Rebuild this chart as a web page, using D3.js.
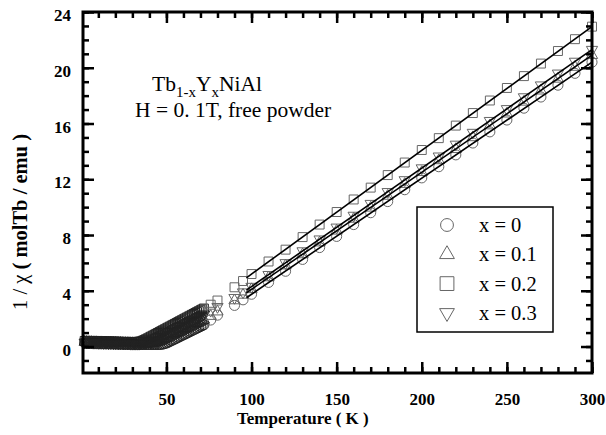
<!DOCTYPE html>
<meta charset="utf-8">
<style>
body {margin: 0; background: #fff;}
text {font-family: "Liberation Serif", "Times New Roman", serif; fill: #000;}
.tick text {font-weight: bold; font-size: 17px;}
.mark {fill: none; stroke: #666; stroke-width: 1;}
.mark.dense {stroke: #222;}
.fit {fill: none; stroke: #000; stroke-width: 1.6;}
</style>
<body>
<script src="https://d3js.org/d3.v7.min.js"></script>
<script>
// temperature (K) shared by all four samples
var temps = [2,3,4,5,6,7,8,9,10,11,12,13,14,15,16,17,18,19,20,21,22,23,24,25,26,27,28,29,30,31,
  32,33,34,35,36,37,38,39,40,41,42,43,44,45,46,47,48,49,50,51,52,53,54,55,56,57,58,59,60,61,
  62,63,64,65,66,67,68,69,70,71,72, 76,80,90,95,
  100,110,120,130,140,150,160,170,180,190,200,210,220,230,240,250,260,270,280,290,300];

// 1/chi for each Y content
var invChiX0 = [0.26,0.26,0.25,0.25,0.25,0.24,0.24,0.24,0.23,0.23,
  0.23,0.22,0.22,0.22,0.21,0.21,0.21,0.20,0.20,0.20,
  0.19,0.19,0.19,0.18,0.18,0.18,0.18,0.17,0.17,0.17,
  0.17,0.16,0.16,0.16,0.16,0.15,0.15,0.15,0.15,0.15,
  0.15,0.15,0.15,0.15,0.15,0.16,0.18,0.21,0.25,0.30,
  0.36,0.42,0.48,0.54,0.60,0.66,0.72,0.78,0.84,0.90,
  0.96,1.02,1.08,1.14,1.20,1.26,1.32,1.38,1.44,1.50,
  1.56, 1.9,2.25, 2.95,3.35,
  3.75,4.6,5.4,6.25,7.1,7.9,8.75,9.6,10.4,11.25,12.1,12.9,13.75,14.6,15.4,16.25,17.1,17.9,18.75,19.6,20.4];
var invChiX01 = [0.32,0.32,0.31,0.31,0.31,0.30,0.30,0.30,0.29,0.29,
  0.29,0.28,0.28,0.28,0.27,0.27,0.27,0.26,0.26,0.26,
  0.25,0.25,0.25,0.24,0.24,0.24,0.24,0.23,0.23,0.23,
  0.23,0.22,0.22,0.22,0.22,0.21,0.21,0.21,0.21,0.22,
  0.23,0.25,0.28,0.32,0.37,0.42,0.47,0.53,0.59,0.65,
  0.71,0.77,0.83,0.89,0.95,1.01,1.07,1.13,1.19,1.25,
  1.31,1.37,1.43,1.49,1.55,1.61,1.67,1.73,1.79,1.85,
  1.91, 2.18,2.5, 3.3,3.7,
  4.1,4.95,5.8,6.6,7.45,8.3,9.15,9.95,10.8,11.65,12.5,13.35,14.15,15.0,15.85,16.7,17.55,18.35,19.2,20.05,20.9];
var invChiX02 = [0.40,0.40,0.39,0.39,0.39,0.38,0.38,0.38,0.37,0.37,
  0.37,0.36,0.36,0.36,0.35,0.35,0.35,0.34,0.34,0.34,
  0.33,0.33,0.33,0.32,0.32,0.32,0.31,0.31,0.31,0.31,
  0.31,0.32,0.34,0.37,0.41,0.46,0.52,0.58,0.645,0.71,
  0.775,0.84,0.905,0.97,1.035,1.10,1.165,1.23,1.295,1.36,
  1.425,1.49,1.555,1.62,1.685,1.75,1.815,1.88,1.945,2.01,
  2.075,2.14,2.205,2.27,2.335,2.40,2.465,2.53,2.595,2.66,
  2.725, 3.0,3.3, 4.25,4.7,
  5.2,6.1,6.95,7.85,8.75,9.65,10.55,11.4,12.3,13.2,14.1,14.95,15.85,16.75,17.65,18.55,19.4,20.3,21.2,22.05,22.95];
var invChiX03 = [0.30,0.30,0.29,0.29,0.29,0.28,0.28,0.28,0.27,0.27,
  0.27,0.26,0.26,0.26,0.25,0.25,0.25,0.24,0.24,0.24,
  0.23,0.23,0.23,0.22,0.22,0.22,0.22,0.21,0.21,0.21,
  0.21,0.21,0.21,0.22,0.24,0.27,0.31,0.36,0.41,0.46,
  0.52,0.58,0.64,0.70,0.76,0.82,0.88,0.94,1.00,1.06,
  1.12,1.18,1.24,1.30,1.36,1.42,1.48,1.54,1.60,1.66,
  1.72,1.78,1.84,1.90,1.96,2.02,2.08,2.14,2.20,2.26,
  2.32, 2.58,2.85, 3.5,3.9,
  4.3,5.15,6.0,6.85,7.7,8.55,9.4,10.25,11.1,11.95,12.8,13.65,14.5,15.35,16.2,17.05,17.9,18.75,19.6,20.45,21.3];

// Curie-Weiss fits, end points
var fitT = [97, 300];
var fitX0 = [3.5, 20.4];
var fitX01 = [3.85, 20.9];
var fitX02 = [4.93, 22.95];
var fitX03 = [4.05, 21.3];

var legendLabels = ["x = 0", "x = 0.1", "x = 0.2", "x = 0.3"];
var xTicks = [50, 100, 150, 200, 250, 300];
var yTicks = [0, 4, 8, 12, 16, 20, 24];

var width = 606, height = 435;
var pL = 83, pR = 592, pT = 12, pB = 373;

var svg = d3.select("body").append("svg")
    .attr("width", width)
    .attr("height", height);

var x = d3.scaleLinear().domain([1, 300]).range([pL, pR]);
var y = d3.scaleLinear().domain([-1.9, 24]).range([pB, pT]);

var shapes = [
  {type: d3.symbolCircle, size: 80, rot: 0},
  {type: d3.symbolTriangle, size: 55, rot: 0},
  {type: d3.symbolSquare, size: 80, rot: 0},
  {type: d3.symbolTriangle, size: 55, rot: 180}
];
var series = [invChiX0, invChiX01, invChiX02, invChiX03];
var fits = [fitX0, fitX01, fitX02, fitX03];

// data points (the 1 K steps below 73 K pile up into a dark band)
series.forEach(function(vals, i) {
  var sh = shapes[i];
  svg.append("g").selectAll("path")
    .data(temps)
    .enter().append("path")
    .attr("class", function(t) { return t <= 72 ? "mark dense" : "mark"; })
    .attr("d", d3.symbol().type(sh.type).size(sh.size))
    .attr("transform", function(t, j) {
      return "translate(" + x(t) + "," + y(vals[j]) + ") rotate(" + sh.rot + ")";
    });
});

// fitted lines
var line = d3.line().x(function(d) { return x(d[0]); }).y(function(d) { return y(d[1]); });
fits.forEach(function(f) {
  svg.append("path")
    .attr("class", "fit")
    .attr("d", line(fitT.map(function(t, j) { return [t, f[j]]; })));
});

// axes: ticks point inward
function styleAxis(g) {
  g.select(".domain").remove();
  g.selectAll(".tick line").attr("stroke", "#000").attr("stroke-width", 2.5);
}
var minorX = d3.range(10, 301, 10);
var minorY = d3.range(-1, 25, 1);

svg.append("g").attr("transform", "translate(0," + pB + ")")
  .call(d3.axisBottom(x).tickValues(minorX).tickSize(-6).tickFormat(""))
  .call(styleAxis);
svg.append("g").attr("transform", "translate(0," + pB + ")")
  .call(d3.axisBottom(x).tickValues(xTicks).tickSize(-11).tickPadding(20))
  .call(styleAxis);
svg.append("g").attr("transform", "translate(0," + pT + ")")
  .call(d3.axisTop(x).tickValues(minorX).tickSize(-6).tickFormat(""))
  .call(styleAxis);
svg.append("g").attr("transform", "translate(0," + pT + ")")
  .call(d3.axisTop(x).tickValues(xTicks).tickSize(-11).tickFormat(""))
  .call(styleAxis);

svg.append("g").attr("transform", "translate(" + pL + ",0)")
  .call(d3.axisLeft(y).tickValues(minorY).tickSize(-6).tickFormat(""))
  .call(styleAxis);
svg.append("g").attr("transform", "translate(" + pL + ",0)")
  .call(d3.axisLeft(y).tickValues(yTicks).tickSize(-11).tickPadding(12))
  .call(styleAxis)
  .selectAll(".tick text").attr("dy", "0.5em");
svg.append("g").attr("transform", "translate(" + pR + ",0)")
  .call(d3.axisRight(y).tickValues(minorY).tickSize(-6).tickFormat(""))
  .call(styleAxis);
svg.append("g").attr("transform", "translate(" + pR + ",0)")
  .call(d3.axisRight(y).tickValues(yTicks).tickSize(-11).tickFormat(""))
  .call(styleAxis);

// frame
svg.append("rect")
  .attr("x", pL).attr("y", pT)
  .attr("width", pR - pL).attr("height", pB - pT)
  .attr("fill", "none").attr("stroke", "#000").attr("stroke-width", 3);

// axis titles
svg.append("text")
  .attr("x", 237).attr("y", 424)
  .style("font-size", "17px").style("font-weight", "bold")
  .text("Temperature ( K )");

var yt = svg.append("text")
  .attr("transform", "translate(27,222) rotate(-90)")
  .attr("text-anchor", "middle")
  .style("font-size", "20.5px");
yt.append("tspan").text("1 / \u03c7 ");
yt.append("tspan").style("font-weight", "bold").text("( molTb / emu )");

// sample annotation
var ann = svg.append("text").attr("x", 152).attr("y", 91).style("font-size", "21.5px");
ann.append("tspan").text("Tb");
ann.append("tspan").attr("dy", 6).style("font-size", "15px").text("1-x");
ann.append("tspan").attr("dy", -6).text("Y");
ann.append("tspan").attr("dy", 6).style("font-size", "15px").text("x");
ann.append("tspan").attr("dy", -6).text("NiAl");

svg.append("text").attr("x", 135).attr("y", 117).style("font-size", "21.5px")
  .text("H = 0. 1T, free powder");

// legend
svg.append("rect")
  .attr("x", 417).attr("y", 207).attr("width", 136).attr("height", 125)
  .attr("fill", "#fff").attr("stroke", "#000").attr("stroke-width", 1.5);

var legendSizes = [130, 95, 190, 95];
legendLabels.forEach(function(lab, i) {
  var cy = 225 + i * 29.3;
  svg.append("path")
    .attr("class", "mark")
    .attr("d", d3.symbol().type(shapes[i].type).size(legendSizes[i]))
    .attr("transform", "translate(447," + cy + ") rotate(" + shapes[i].rot + ")");
  svg.append("text")
    .attr("x", 479).attr("y", cy + 7)
    .style("font-size", "20.5px")
    .text(lab);
});
</script>
</body>
